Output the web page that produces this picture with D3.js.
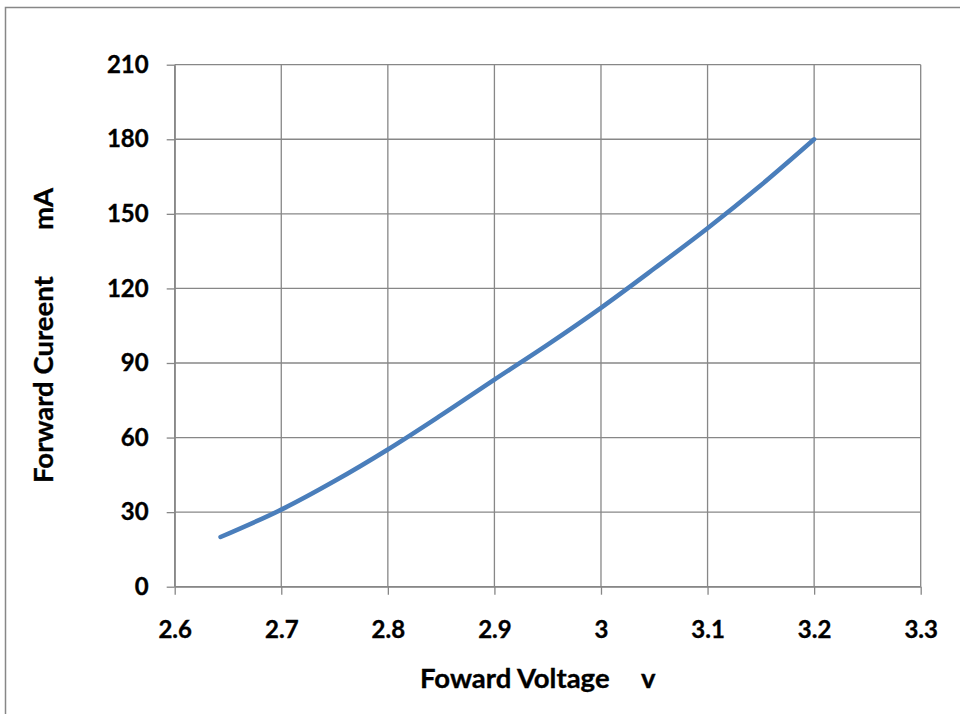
<!DOCTYPE html>
<html>
<head>
<meta charset="utf-8">
<script src="https://cdn.jsdelivr.net/npm/d3@7"></script>
<style>
  html, body { margin: 0; padding: 0; background: #fff; }
  svg { display: block; }
  text { font-family: Lato, "Open Sans", sans-serif; font-weight: 700; fill: #000; }
</style>
</head>
<body>
<svg id="chart" width="960" height="714"></svg>
<script>
// ---- data ----
const voltage = [2.643, 2.7, 2.75, 2.8, 2.85, 2.9, 2.95, 3.0, 3.05, 3.1, 3.15, 3.2];
const current = [20, 31, 42.5, 55.2, 69, 83.3, 97.4, 112.2, 128, 144.2, 161.5, 180];
const xTicks = [2.6, 2.7, 2.8, 2.9, 3.0, 3.1, 3.2, 3.3];
const yTicks = [0, 30, 60, 90, 120, 150, 180, 210];
const xTitle = "Foward Voltage";
const xUnit = "v";
const yTitle = "Forward Cureent";
const yUnit = "mA";

// ---- layout ----
const svg = d3.select("#chart");
const pL = 174.7, pR = 920.7, pT = 64.7, pB = 586.7;
const gridColor = "#878787";

const x = d3.scaleLinear().domain([2.6, 3.3]).range([pL, pR]);
const y = d3.scaleLinear().domain([0, 210]).range([pB, pT]);

// outer frame
svg.append("rect")
  .attr("x", 5.5).attr("y", 7.5)
  .attr("width", 1000).attr("height", 1000)
  .attr("fill", "none").attr("stroke", gridColor).attr("stroke-width", 1.5);

// gridlines
const grid = svg.append("g");
grid.selectAll("line.h").data(yTicks).join("line")
  .attr("class", "h")
  .attr("x1", pL).attr("x2", pR)
  .attr("y1", d => y(d)).attr("y2", d => y(d))
  .attr("stroke", gridColor).attr("stroke-width", 1.3);
grid.selectAll("line.v").data(xTicks).join("line")
  .attr("class", "v")
  .attr("y1", pT).attr("y2", pB)
  .attr("x1", d => x(d)).attr("x2", d => x(d))
  .attr("stroke", gridColor).attr("stroke-width", 1.3);

// axes
const fmtX = d => (d === 3 ? "3" : d3.format(".1f")(d));
const xAxis = svg.append("g")
  .attr("transform", `translate(0,${pB})`)
  .call(d3.axisBottom(x).tickValues(xTicks).tickFormat(fmtX).tickSize(8).tickSizeOuter(0).tickPadding(26));
const yAxis = svg.append("g")
  .attr("transform", `translate(${pL},0)`)
  .call(d3.axisLeft(y).tickValues(yTicks).tickSize(8).tickSizeOuter(0).tickPadding(18));

[xAxis, yAxis].forEach(g => {
  g.select(".domain").attr("stroke", gridColor).attr("stroke-width", 1.3);
  g.selectAll(".tick line").attr("stroke", gridColor).attr("stroke-width", 1.3);
  g.selectAll(".tick text")
    .attr("fill", "#000")
    .attr("stroke", "#000").attr("stroke-width", 0.35)
    .style("font-family", "Lato, 'Open Sans', sans-serif")
    .style("font-weight", 700)
    .style("font-size", "24px");
});

// curve
const pts = voltage.map((v, i) => [v, current[i]]);
const line = d3.line().x(d => x(d[0])).y(d => y(d[1])).curve(d3.curveCatmullRom.alpha(0.5));
svg.append("path")
  .attr("d", line(pts))
  .attr("fill", "none")
  .attr("stroke", "#4a7ebb")
  .attr("stroke-width", 4.5)
  .attr("stroke-linecap", "round")
  .attr("stroke-linejoin", "round");

// axis titles
const xt = svg.append("text")
  .attr("x", 420).attr("y", 688)
  .attr("stroke", "#000").attr("stroke-width", 0.35)
  .style("font-size", "27.5px");
xt.append("tspan").text(xTitle);
xt.append("tspan").attr("x", 641).text(xUnit);

const yt = svg.append("text")
  .attr("transform", "translate(53,483) rotate(-90)")
  .attr("stroke", "#000").attr("stroke-width", 0.35)
  .style("font-size", "27.5px");
yt.append("tspan").attr("x", 0).attr("y", 0).text(yTitle);
yt.append("tspan").attr("x", 253).attr("y", 0).text(yUnit);
</script>
</body>
</html>
